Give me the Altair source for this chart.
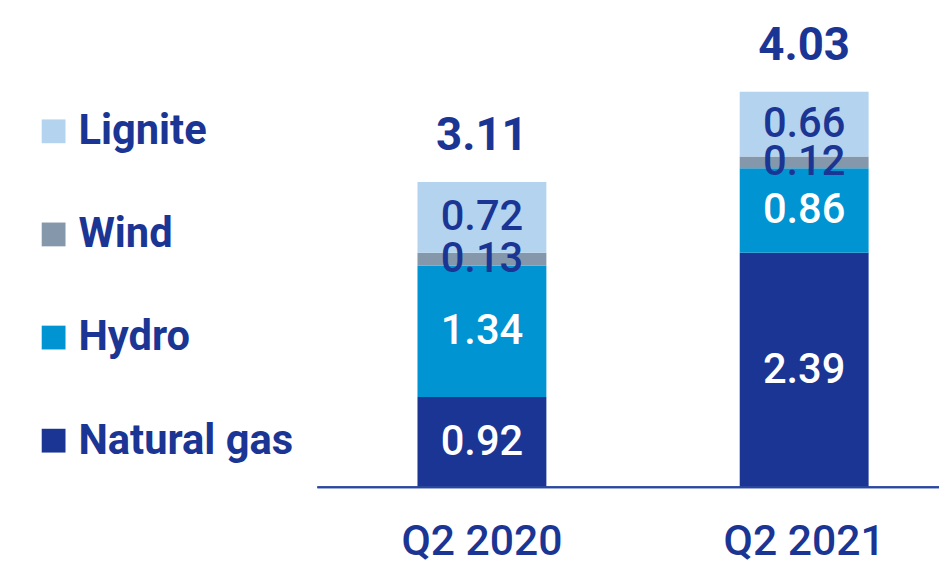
import altair as alt
import pandas as pd

periods = ["Q2 2020", "Q2 2021"]
sources = ["Natural gas", "Hydro", "Wind", "Lignite"]  # bottom to top
values = {
    "Natural gas": [0.92, 2.39],
    "Hydro": [1.34, 0.86],
    "Wind": [0.13, 0.12],
    "Lignite": [0.72, 0.66],
}
totals = [3.11, 4.03]
colors = ["#b3d3ef", "#8497ab", "#0094d2", "#1a3594"]  # Lignite, Wind, Hydro, Natural gas
label_colors = {"Natural gas": "#ffffff", "Hydro": "#ffffff", "Wind": "#1a3594", "Lignite": "#1a3594"}

NAVY = "#1a3594"
FONT = "Roboto"

rows = []
for i, p in enumerate(periods):
    base = 0.0
    for k, s in enumerate(sources):
        v = values[s][i]
        rows.append({
            "period": p, "source": s, "value": v, "order": k,
            "y0": base, "y1": base + v, "mid": base + v / 2,
            "label": f"{v:.2f}", "lcolor": label_colors[s],
        })
        base += v
df = pd.DataFrame(rows)
tot = pd.DataFrame({"period": periods, "total": totals, "label": [f"{t:.2f}" for t in totals]})

W, H = 627, 481
xscale = alt.Scale(domain=periods, range=[101, 556], paddingInner=0.6, paddingOuter=0)
yscale = alt.Scale(domain=[0, 4.86], nice=False, zero=True)

bars = alt.Chart(df).mark_bar(size=130).encode(
    x=alt.X("period:N", scale=xscale, sort=periods,
            axis=alt.Axis(title=None, domain=False, ticks=False, labelAngle=0,
                          labelFont=FONT, labelFontSize=43, labelFontWeight=500,
                          labelColor=NAVY, labelPadding=34)),
    y=alt.Y("y0:Q", scale=yscale, axis=None),
    y2="y1:Q",
    color=alt.Color("source:N", scale=alt.Scale(domain=["Lignite", "Wind", "Hydro", "Natural gas"], range=colors),
                    legend=alt.Legend(title=None, orient="none", legendX=-287, legendY=101,
                                      symbolType="square", symbolSize=576, symbolStrokeWidth=0,
                                      symbolOpacity=1,
                                      labelFont=FONT, labelFontSize=42, labelFontWeight="bold",
                                      labelColor=NAVY, labelOffset=4, rowPadding=62,
                                      padding=0, labelLimit=400)),
)

seg_text = alt.Chart(df).mark_text(font=FONT, fontSize=42, fontWeight=500, baseline="middle").encode(
    x=alt.X("period:N", scale=xscale, sort=periods),
    y=alt.Y("mid:Q", scale=yscale),
    text="label:N",
    color=alt.Color("lcolor:N", scale=None),
)

tot_text = alt.Chart(tot).mark_text(font=FONT, fontSize=46, fontWeight="bold", baseline="middle",
                                     dy=-46, color=NAVY).encode(
    x=alt.X("period:N", scale=xscale, sort=periods),
    y=alt.Y("total:Q", scale=yscale),
    text="label:N",
)

baseline = alt.Chart(tot).mark_rule(color="#2a47a0", strokeWidth=2).encode(
    x=alt.value(0), x2=alt.value(W), y=alt.value(H),
)

chart = alt.layer(bars, seg_text, tot_text, baseline).properties(
    width=W, height=H,
    padding={"left": 312, "top": 0, "right": 0, "bottom": 74},
    autosize=alt.AutoSizeParams(type="none"),
).configure_view(stroke=None).configure_axis(grid=False)

chart.save("out.html", embed_options={"renderer": "svg", "actions": False})
